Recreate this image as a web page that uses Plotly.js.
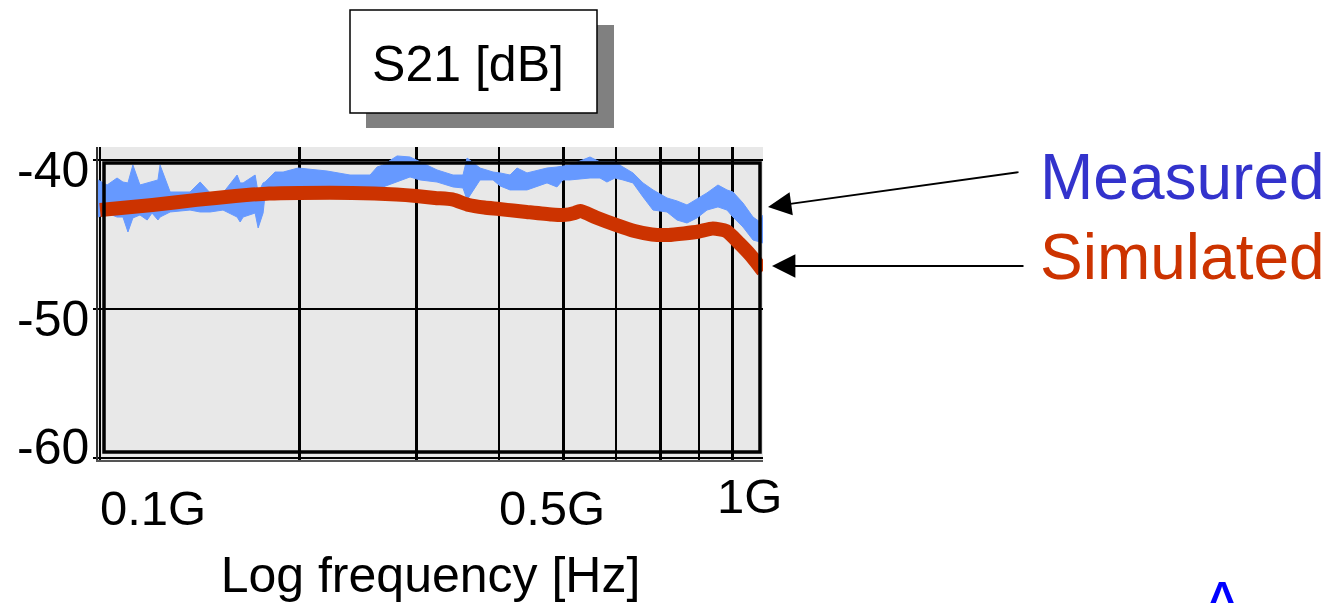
<!DOCTYPE html>
<html>
<head>
<meta charset="utf-8">
<script src="https://cdn.plot.ly/plotly-3.0.1.min.js"></script>
<style>html,body{margin:0;padding:0;background:#fff;}#chart{width:1327px;height:603px;}</style>
</head>
<body>
<div id="chart"></div>
<script>
// ---- data (frequency in GHz, S21 in dB) ----
// Measured trace is noisy and thick: stored as its upper and lower envelope
const measuredFreq = [0.0993,0.1025,0.1061,0.1083,0.1102,0.1121,0.1149,0.1178,0.1198,0.1223,0.1232,0.1276,0.1367,0.1416,0.1466,0.1533,0.1610,0.1627,0.1644,0.1714,0.1732,0.1762,0.1774,0.1837,0.1889,0.1990,0.2200,0.2383,0.2555,0.2618,0.2673,0.2806,0.2935,0.3039,0.3224,0.3408,0.3528,0.3578,0.3743,0.3916,0.4012,0.4154,0.4256,0.4406,0.4723,0.4889,0.4992,0.5115,0.5483,0.5677,0.5816,0.5980,0.6149,0.6366,0.6592,0.6825,0.7165,0.7418,0.7680,0.7951,0.8232,0.8552,0.8824,0.9010,0.9329,0.9659,0.9897,1.0];
const measuredUpperDb = [-41.34,-41.68,-41.21,-41.48,-41.54,-40.34,-41.68,-41.54,-41.48,-41.34,-40.34,-42.15,-42.15,-41.48,-42.21,-42.21,-41.01,-41.54,-41.54,-41.01,-42.21,-41.54,-41.48,-40.81,-40.81,-40.54,-40.74,-41.01,-41.01,-40.47,-40.34,-39.73,-39.80,-40.13,-40.67,-41.01,-41.01,-39.87,-40.54,-40.81,-40.87,-41.01,-40.54,-40.87,-40.54,-40.47,-40.40,-40.34,-39.80,-40.13,-40.13,-40.13,-40.47,-40.87,-41.54,-42.01,-42.55,-42.75,-43.02,-42.62,-42.21,-41.68,-42.01,-42.15,-42.89,-43.83,-44.16,-43.69];
const measuredLowerDb = [-43.83,-43.56,-43.83,-43.83,-44.83,-43.89,-43.69,-44.03,-43.56,-44.03,-43.83,-43.49,-43.36,-43.49,-43.49,-43.36,-43.83,-44.16,-43.83,-43.56,-44.56,-43.56,-42.35,-42.01,-42.01,-42.01,-41.88,-42.01,-41.88,-41.81,-41.81,-41.48,-41.14,-41.34,-41.48,-41.81,-41.88,-42.68,-41.34,-41.34,-41.74,-42.01,-42.01,-42.01,-41.54,-41.81,-41.34,-41.34,-41.21,-41.21,-41.48,-41.21,-41.34,-41.54,-42.48,-43.36,-43.49,-44.03,-44.23,-43.89,-43.36,-43.15,-43.36,-43.83,-44.50,-45.37,-45.50,-45.57];

const simulatedFreq = [0.10,0.12,0.14,0.16,0.18,0.20,0.24,0.28,0.30,0.32,0.34,0.36,0.38,0.40,0.44,0.48,0.50,0.52,0.53,0.56,0.60,0.64,0.68,0.72,0.76,0.80,0.84,0.88,0.92,0.96,1.00];
const simulatedDb = [-43.36,-43.02,-42.68,-42.42,-42.25,-42.21,-42.21,-42.32,-42.42,-42.55,-42.65,-43.02,-43.19,-43.29,-43.49,-43.66,-43.69,-43.56,-43.42,-43.86,-44.36,-44.77,-45.0,-45.03,-44.93,-44.8,-44.6,-44.77,-45.57,-46.44,-47.45];

const xGridVals = [0.1,0.2,0.3,0.4,0.5,0.6,0.7,0.8,0.9,1.0];
const xLabelVals = [0.1,0.5,1.0];
const xLabelText = ['0.1G','0.5G','1G'];
const yTickVals = [-40,-50,-60];
const yTickText = ['-40','-50','-60'];
const seriesNames = ['Measured','Simulated'];
const chartTitle = 'S21 [dB]';
const xTitle = 'Log frequency [Hz]';

// ---- styling / layout ----
const FONT = 'Liberation Sans, Arial, sans-serif';
const W = 1327, H = 603, L = 98, R = 564, T = 147, B = 143;
const px = v => (v - L) / (W - L - R);       // pixel -> paper x
const py = v => (H - B - v) / (H - T - B);   // pixel -> paper y
const BLUE = '#6699FF', RED = '#CC3300';

const traces = [
  {x: measuredFreq, y: measuredUpperDb, type: 'scatter', mode: 'lines', name: seriesNames[0],
   line: {color: BLUE, width: 1}},
  {x: measuredFreq, y: measuredLowerDb, type: 'scatter', mode: 'lines', name: seriesNames[0],
   line: {color: BLUE, width: 1}, fill: 'tonexty', fillcolor: BLUE},
  {x: simulatedFreq, y: simulatedDb, type: 'scatter', mode: 'lines', name: seriesNames[1],
   line: {color: RED, width: 14, shape: 'spline', smoothing: 0.6}}
];

const xLabelAnchor = ['left','center','center'];
const xLabelShift = [-2,-11,-14];
const xLabelY = [py(508), py(508), py(496)];
const yLabelShift = [-10,-10,11];

const annotations = [];
xLabelVals.forEach((v,i) => annotations.push({
  x: Math.log10(v), xref: 'x', y: xLabelY[i], yref: 'paper', text: xLabelText[i],
  showarrow: false, xanchor: xLabelAnchor[i], yanchor: 'middle', xshift: xLabelShift[i],
  font: {family: FONT, size: 49, color: '#000'}
}));
yTickVals.forEach((v,i) => annotations.push({
  x: px(91), xref: 'paper', y: v, yref: 'y', text: yTickText[i],
  showarrow: false, xanchor: 'right', yanchor: 'middle', yshift: yLabelShift[i],
  font: {family: FONT, size: 50, color: '#000'}
}));
// series labels
annotations.push({x: px(1038), xref: 'paper', y: py(177), yref: 'paper', text: seriesNames[0],
  showarrow: false, xanchor: 'left', yanchor: 'middle', font: {family: FONT, size: 64, color: '#3333CC'}});
annotations.push({x: px(1038), xref: 'paper', y: py(257), yref: 'paper', text: seriesNames[1],
  showarrow: false, xanchor: 'left', yanchor: 'middle', font: {family: FONT, size: 64, color: '#CC3300'}});
// arrows
annotations.push({x: px(768), xref: 'paper', y: py(207), yref: 'paper', text: '', showarrow: true,
  ax: 252, ay: -35, arrowhead: 2, arrowsize: 2.6, arrowwidth: 1.8, arrowcolor: '#000', standoff: 0});
annotations.push({x: px(772), xref: 'paper', y: py(266), yref: 'paper', text: '', showarrow: true,
  ax: 253, ay: 0, arrowhead: 2, arrowsize: 2.6, arrowwidth: 1.8, arrowcolor: '#000', standoff: 0});
// cut-off blue glyph at bottom right (as in the source picture)
annotations.push({x: px(1222), xref: 'paper', y: py(602), yref: 'paper', text: 'A', showarrow: false,
  xanchor: 'center', yanchor: 'middle', font: {family: FONT, size: 60, color: '#0000FF'}});

const shapes = [
  {type: 'rect', xref: 'paper', yref: 'paper', x0: px(366), x1: px(614), y0: py(128), y1: py(25),
   fillcolor: '#808080', line: {width: 0}, layer: 'above'},
  {type: 'rect', xref: 'paper', yref: 'paper', x0: px(350), x1: px(597), y0: py(113), y1: py(10),
   fillcolor: '#FFFFFF', line: {color: '#000', width: 1.5}, layer: 'above'},
  {type: 'rect', xref: 'paper', yref: 'paper', x0: px(104), x1: px(760), y0: py(452), y1: py(163),
   fillcolor: 'rgba(0,0,0,0)', line: {color: '#000', width: 3.5}, layer: 'above'}
];

const layout = {
  width: W, height: H,
  margin: {l: L, r: R, t: T, b: B, pad: 0},
  paper_bgcolor: '#FFFFFF', plot_bgcolor: '#E8E8E8',
  showlegend: false,
  font: {family: FONT, color: '#000'},
  title: {text: chartTitle, font: {family: FONT, size: 50, color: '#000'},
          xref: 'container', yref: 'container', x: 468 / W, xanchor: 'center', y: 1 - 63 / H, yanchor: 'middle'},
  xaxis: {type: 'log', range: [-1.003, 0], tickvals: xGridVals, showticklabels: false, ticks: '',
          showgrid: true, gridcolor: '#000', gridwidth: 2.5, zeroline: false,
          showline: true, linecolor: '#555', linewidth: 2,
          title: {text: xTitle, font: {family: FONT, size: 50, color: '#000'}, standoff: 97}, automargin: false},
  yaxis: {range: [-60.13, -39.13], tickvals: yTickVals, showticklabels: false, ticks: 'outside', ticklen: 3,
          tickcolor: '#000', tickwidth: 2.5, showgrid: true, gridcolor: '#000', gridwidth: 2.5, zeroline: false,
          showline: true, linecolor: '#333', linewidth: 2, automargin: false},
  annotations: annotations,
  shapes: shapes
};

Plotly.newPlot('chart', traces, layout, {staticPlot: true, displayModeBar: false});
</script>
</body>
</html>
